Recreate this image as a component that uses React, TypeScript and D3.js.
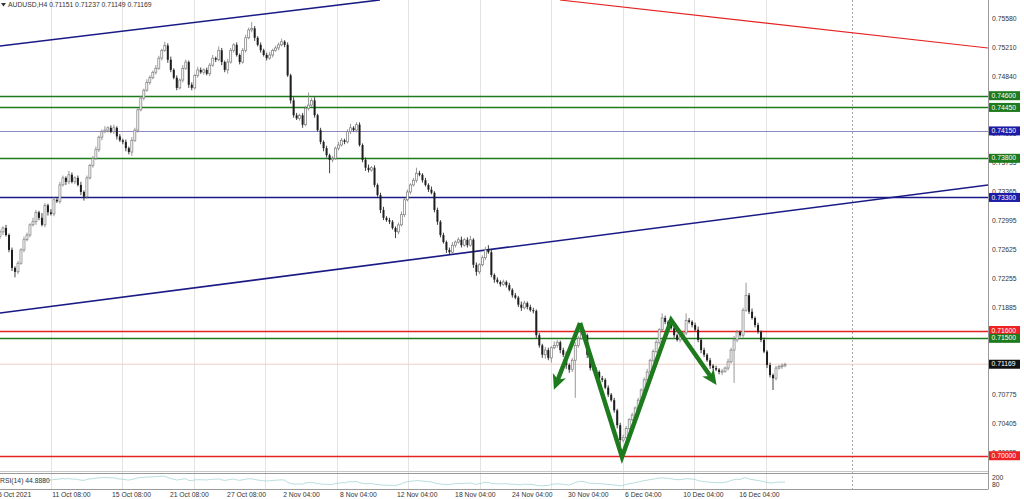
import React from 'react';
import * as d3 from 'd3';

// ---- Data (prices in pips, 1 pip = 0.0001) ----
const firstOpen = 7280;
const closes = [
  7286,7291,7282,7263,7240,7235,7246,7263,7276,7282,
  7295,7299,7311,7304,7295,7320,7311,7309,7327,7325,
  7346,7355,7350,7359,7350,7355,7346,7337,7331,7355,
  7371,7380,7391,7407,7414,7416,7419,7414,7419,7408,
  7403,7401,7393,7388,7403,7416,7442,7457,7467,7477,
  7483,7490,7495,7508,7518,7524,7506,7493,7483,7470,
  7480,7495,7503,7474,7470,7486,7493,7490,7493,7488,
  7499,7508,7506,7518,7503,7493,7503,7518,7525,7512,
  7503,7518,7534,7544,7546,7534,7525,7518,7512,7508,
  7512,7518,7521,7525,7529,7525,7486,7454,7435,7431,
  7435,7423,7444,7448,7454,7435,7416,7401,7393,7384,
  7378,7380,7393,7397,7403,7401,7414,7419,7416,7423,
  7397,7378,7368,7365,7368,7346,7333,7314,7304,7301,
  7299,7291,7286,7295,7308,7327,7337,7346,7352,7361,
  7359,7352,7346,7340,7336,7314,7299,7282,7273,7263,
  7260,7269,7273,7276,7269,7276,7269,7276,7244,7235,
  7244,7253,7263,7260,7231,7225,7222,7219,7222,7218,
  7212,7205,7202,7193,7189,7195,7190,7186,7185,7154,
  7141,7129,7135,7125,7138,7141,7145,7135,7129,7116,
  7110,7122,7141,7150,7158,7154,7129,7112,7110,7107,
  7099,7097,7087,7078,7071,7058,7039,7020,7023,7035,
  7046,7052,7061,7071,7084,7097,7107,7122,7133,7145,
  7161,7176,7171,7167,7163,7154,7148,7152,7157,7173,
  7171,7167,7161,7148,7135,7129,7122,7115,7112,7110,
  7107,7108,7112,7120,7135,7148,7158,7154,7186,7205,
  7184,7176,7167,7158,7148,7133,7116,7103,7099,7112,
  7114,7115,7116.9,
];
const wickUp = [
  3,2,4,2,3,2,3,2,4,3, 2,5,3,2,6,3,2,4,3,2, 4,3,2,5,3,2,3,4,2,3,
  2,3,4,2,3,5,2,3,4,2, 3,2,3,2,4,3,2,3,2,4, 3,2,4,3,2,5,3,4,2,3,
  2,4,3,2,3,2,4,3,2,3, 3,4,2,5,3,2,4,3,2,3, 2,3,4,3,8,3,2,3,2,3,
  4,2,3,3,4,2,3,2,4,3, 2,3,3,16,3,4,2,3,2,3, 2,3,2,4,3,2,3,5,2,3,
  3,2,3,4,2,3,2,3,4,2, 3,2,2,3,4,2,3,2,3,7, 3,2,3,2,4,2,3,2,3,2,
  3,4,2,3,4,2,3,5,2,3, 2,3,4,6,3,2,3,2,3,2, 3,2,3,2,4,3,2,3,3,2,
  3,2,4,3,2,5,3,2,3,4, 2,3,4,3,2,3,2,3,2,3, 2,3,2,3,2,3,2,3,4,3,
  2,3,2,3,2,3,4,2,3,3, 2,6,3,2,4,3,2,3,2,9, 3,2,3,4,2,3,2,3,2,3,
  2,3,2,4,3,5,3,2,3,16, 3,4,2,3,2,3,2,3,2,3, 2,3,2,
];
const wickDn = [
  3,4,2,3,4,7,3,2,3,2, 3,2,4,3,2,3,4,2,3,2, 3,2,4,3,2,3,2,4,5,3,
  2,3,2,3,4,2,3,2,3,4, 2,3,4,3,5,2,3,2,3,2, 3,2,3,2,3,2,4,3,2,3,
  2,3,2,4,3,2,3,2,3,2, 3,2,3,2,4,3,5,2,3,2, 3,2,3,2,3,4,2,3,2,3,
  2,3,2,3,2,3,2,4,3,2, 3,4,2,3,2,3,2,3,4,3, 17,3,2,3,2,3,2,3,2,3,
  2,3,4,3,2,3,2,4,3,2, 3,2,8,3,2,3,2,3,2,3, 2,3,2,3,2,3,4,3,2,4,
  3,2,3,2,3,2,3,2,4,5, 3,2,3,2,3,4,2,3,2,3, 2,3,2,3,4,2,3,2,3,4,
  3,4,5,3,6,2,3,4,3,5, 4,3,48,3,2,3,4,3,2,3, 2,3,2,3,2,3,4,13,3,2,
  3,2,3,2,3,2,3,2,3,2, 3,2,3,4,2,3,2,3,2,3, 2,3,2,3,4,3,2,4,3,2,
  3,4,2,3,2,42,3,2,3,2, 3,2,3,2,3,2,4,3,15,3, 2,3,2,
];

const headerText = 'AUDUSD,H4  0.71151 0.71237 0.71149 0.71169';
const currentPrice = 0.71169;
const rsiText = 'RSI(14) 44.8880';

const levelPrices = [0.746, 0.7445, 0.7415, 0.738, 0.733, 0.716, 0.715, 0.70];
const levelKinds = ['green', 'green', 'blueLight', 'green', 'blue', 'red', 'green', 'red'];

const priceTicks = [0.7558, 0.7521, 0.7484, 0.7447, 0.74105, 0.73735, 0.73365, 0.72995,
  0.72625, 0.72255, 0.71885, 0.71515, 0.71145, 0.70775, 0.70405, 0.70035];

const timeLabels = ['5 Oct 2021', '11 Oct 08:00', '15 Oct 08:00', '21 Oct 08:00', '27 Oct 08:00',
  '2 Nov 04:00', '8 Nov 04:00', '12 Nov 04:00', '18 Nov 04:00', '24 Nov 04:00',
  '30 Nov 04:00', '6 Dec 04:00', '10 Dec 04:00', '16 Dec 04:00'];
const timeLabelBars = [-0.7, 17.4, 37.4, 56.7, 75.8, 94.5, 113.5, 132.5, 151.9, 170.9, 189.6, 208.6, 228.0, 246.7];

// trend lines: [bar, price] pairs
const upperChannel = [[0, 0.75235], [126.8, 0.75823]];
const lowerChannel = [[0, 0.71824], [329.8, 0.73459]];
const redTrend = [[186.9, 0.75823], [329.8, 0.75209]];

// arrows: [bar, price]
const arrowLeft = [[193.6, 0.71696], [185.6, 0.70916]];
const arrowZigzag = [[193.6, 0.71696], [207.6, 0.69984], [224.0, 0.71734], [238.0, 0.70968]];

const COLORS: Record<string, string> = {
  green: '#1d7a1d',
  blueLight: '#8a8ac0',
  blue: '#1a1a86',
  red: '#e52222',
};
const BOX: Record<string, string> = {
  green: '#1d7a1d',
  blueLight: '#1c1ca6',
  blue: '#1c1ca6',
  red: '#ee2222',
};

const FONT = '"Liberation Sans", Arial, sans-serif';

function computeRSI(vals: number[], n: number) {
  const out: (number | null)[] = vals.map(() => null);
  let gain = 0, loss = 0;
  for (let i = 1; i <= n; i++) {
    const d = vals[i] - vals[i - 1];
    if (d > 0) gain += d; else loss -= d;
  }
  gain /= n; loss /= n;
  out[n] = loss === 0 ? 100 : 100 - 100 / (1 + gain / loss);
  for (let i = n + 1; i < vals.length; i++) {
    const d = vals[i] - vals[i - 1];
    gain = (gain * (n - 1) + Math.max(d, 0)) / n;
    loss = (loss * (n - 1) + Math.max(-d, 0)) / n;
    out[i] = loss === 0 ? 100 : 100 - 100 / (1 + gain / loss);
  }
  return out;
}

export default function App() {
  const W = 1024, H = 499;
  const plotRight = 988;
  const mainBottom = 472;
  const x = d3.scaleLinear().domain([0, closes.length - 1]).range([0, 785]);
  const y = d3.scaleLinear().domain([0.70035, 0.7558]).range([453, 19]);
  const rsiY = d3.scaleLinear().domain([0, 100]).range([488, 474]);

  const candles = closes.map((c, i) => {
    const o = i === 0 ? firstOpen : closes[i - 1];
    const h = Math.max(o, c) + wickUp[i];
    const l = Math.min(o, c) - wickDn[i];
    return { i, o: o / 1e4, c: c / 1e4, h: h / 1e4, l: l / 1e4 };
  });

  const rsi = computeRSI(closes, 14);
  const rsiLine = d3.line<[number, number]>().x(d => x(d[0])).y(d => rsiY(d[1]));
  const rsiPts = rsi.map((v, i) => [i, v] as [number, number | null]).filter(d => d[1] !== null) as [number, number][];

  const pl = d3.line<number[]>().x(d => x(d[0])).y(d => y(d[1]));

  const gridX = d3.range(11).map(k => 50.5 + 71.55 * k);

  return (
    <svg width={W} height={H} style={{ position: 'absolute', left: 0, top: 0, background: '#fff' }}
      fontFamily={FONT}>
      <defs>
        <clipPath id="mainClip"><rect x={0} y={0} width={plotRight} height={mainBottom} /></clipPath>
        <clipPath id="rsiClip"><rect x={0} y={474} width={plotRight} height={15} /></clipPath>
        <marker id="ah" markerUnits="userSpaceOnUse" markerWidth={16} markerHeight={16}
          refX={9} refY={8} orient="auto" viewBox="0 0 16 16">
          <path d="M0,1 L15,8 L0,15 L4,8 Z" fill="#1d7a1d" />
        </marker>
      </defs>
      <rect x={0} y={0} width={W} height={H} fill="#fff" />

      {/* vertical grid */}
      {gridX.map((gx, k) => (
        <line key={k} x1={Math.round(gx) + 0.5} x2={Math.round(gx) + 0.5} y1={0} y2={489}
          stroke="#e3e3e3" strokeWidth={1} />
      ))}
      <line x1={852.5} x2={852.5} y1={0} y2={489} stroke="#a8a8a8" strokeWidth={1} strokeDasharray="2,2" />

      <g clipPath="url(#mainClip)">
        {/* current price line */}
        <line x1={0} x2={plotRight} y1={y(currentPrice)} y2={y(currentPrice)} stroke="#f1cfc4" strokeWidth={1} />
        {/* horizontal levels */}
        {levelPrices.map((p, k) => (
          <line key={k} x1={0} x2={plotRight} y1={Math.round(y(p)) + 0.5} y2={Math.round(y(p)) + 0.5}
            stroke={COLORS[levelKinds[k]]} strokeWidth={levelKinds[k] === 'blueLight' ? 1 : 1.3} />
        ))}
        {/* trend lines */}
        <path d={pl(upperChannel) || ''} stroke="#1a1a86" strokeWidth={1.6} fill="none" />
        <path d={pl(lowerChannel) || ''} stroke="#1a1a86" strokeWidth={1.6} fill="none" />
        <path d={pl(redTrend) || ''} stroke="#e52222" strokeWidth={1.1} fill="none" />

        {/* candles */}
        {candles.map(d => {
          const cx = x(d.i);
          const bull = d.c >= d.o;
          const top = y(Math.max(d.o, d.c));
          const bot = y(Math.min(d.o, d.c));
          const bh = Math.max(1, bot - top);
          return (
            <g key={d.i}>
              <line x1={cx} x2={cx} y1={y(d.h)} y2={y(d.l)} stroke={bull ? '#8c8c8c' : '#2a2a2a'} strokeWidth={0.9} />
              <rect x={cx - 1} y={top} width={2} height={bh}
                fill={bull ? '#ffffff' : '#1e1e1e'} stroke={bull ? '#7a7a7a' : 'none'} strokeWidth={0.7} />
            </g>
          );
        })}

        {/* arrows */}
        <path d={pl(arrowLeft) || ''} stroke="#1d7a1d" strokeWidth={4.5} fill="none" markerEnd="url(#ah)" />
        <path d={pl(arrowZigzag) || ''} stroke="#1d7a1d" strokeWidth={4.5} fill="none"
          strokeLinejoin="miter" markerEnd="url(#ah)" />
      </g>

      {/* RSI panel */}
      <line x1={0} x2={plotRight} y1={471.5} y2={471.5} stroke="#c8c8c8" />
      <line x1={0} x2={plotRight} y1={473.5} y2={473.5} stroke="#9a9a9a" />
      <line x1={0} x2={plotRight} y1={489.5} y2={489.5} stroke="#9a9a9a" />
      <g clipPath="url(#rsiClip)">
        <path d={rsiLine(rsiPts) || ''} stroke="#a6d4d4" strokeWidth={0.8} fill="none" />
      </g>
      <text x={0} y={481} fontSize={6.8} fill="#333" dominantBaseline="middle">{rsiText}</text>

      {/* right border */}
      <line x1={plotRight + 0.5} x2={plotRight + 0.5} y1={0} y2={489.5} stroke="#9a9a9a" />

      {/* price axis */}
      {priceTicks.map((p, k) => (
        <text key={k} x={992} y={y(p)} fontSize={6.8} fill="#333" dominantBaseline="middle">{p.toFixed(5)}</text>
      ))}
      {levelPrices.map((p, k) => (
        <g key={k}>
          <rect x={989} y={y(p) - 4.5} width={31} height={9} fill={BOX[levelKinds[k]]} />
          <text x={991.5} y={y(p) + 0.3} fontSize={6.8} fill="#fff" dominantBaseline="middle">{p.toFixed(5)}</text>
        </g>
      ))}
      <rect x={989} y={y(currentPrice) - 4.5} width={31} height={9} fill="#111" />
      <text x={991.5} y={y(currentPrice) + 0.3} fontSize={6.8} fill="#fff" dominantBaseline="middle">{currentPrice.toFixed(5)}</text>

      {/* RSI axis */}
      <text x={992} y={478} fontSize={6.8} fill="#333" dominantBaseline="middle">200</text>
      <text x={992} y={485.5} fontSize={6.8} fill="#333" dominantBaseline="middle">80</text>

      {/* time axis */}
      {timeLabels.map((t, k) => (
        <text key={k} x={x(timeLabelBars[k])} y={497} fontSize={6.8} fill="#333">{t}</text>
      ))}

      {/* header */}
      <path d="M1,3 L6,3 L3.5,6.5 Z" fill="#333" />
      <text x={8} y={5} fontSize={6.8} fill="#333" dominantBaseline="middle">{headerText}</text>
    </svg>
  );
}
